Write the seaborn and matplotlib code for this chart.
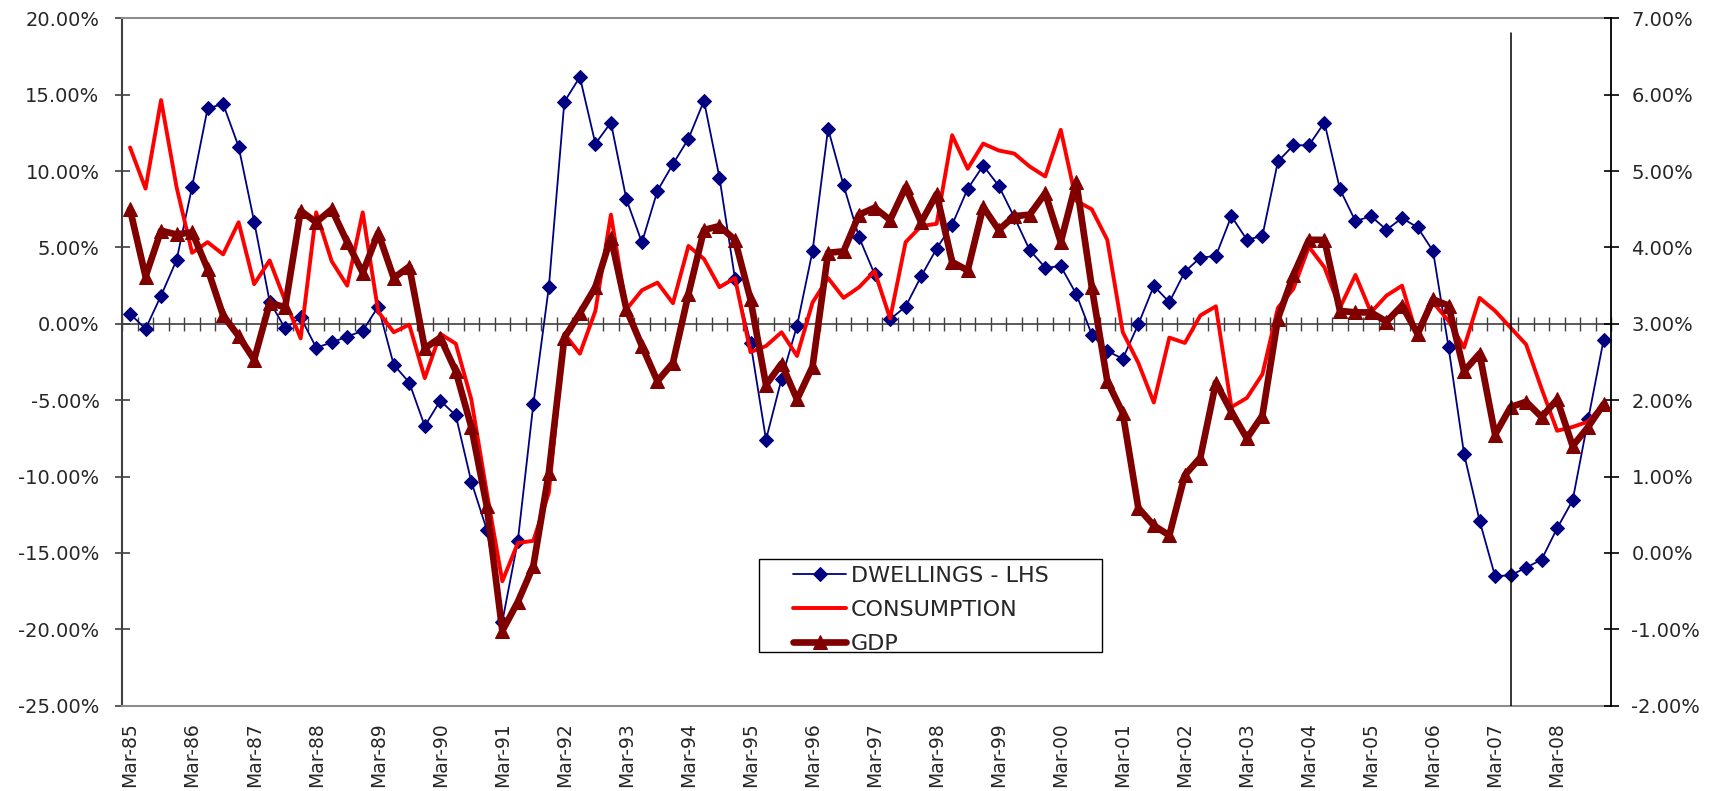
import numpy as np
import pandas as pd
import matplotlib
matplotlib.use("Agg")
import matplotlib.pyplot as plt
import seaborn as sns
from matplotlib.ticker import FuncFormatter
from matplotlib.patches import Rectangle
from matplotlib import font_manager

# quarterly categories Mar-85 .. Dec-08
quarters = [f"{m}-{y % 100:02d}" for y in range(1985, 2009) for m in ["Mar", "Jun", "Sep", "Dec"]]
tick_labels = ["Mar-85", "Mar-86", "Mar-87", "Mar-88", "Mar-89", "Mar-90", "Mar-91", "Mar-92",
               "Mar-93", "Mar-94", "Mar-95", "Mar-96", "Mar-97", "Mar-98", "Mar-99", "Mar-00",
               "Mar-01", "Mar-02", "Mar-03", "Mar-04", "Mar-05", "Mar-06", "Mar-07", "Mar-08"]

# dwellings, % (left axis)
dwellings = [0.66, -0.33, 1.85, 4.17, 8.97, 14.1, 14.4, 11.6, 6.7, 1.46, -0.3, 0.43, -1.56, -1.22, -0.83, -0.46,
             1.13, -2.68, -3.84, -6.69, -5.03, -5.99, -10.33, -13.48, -19.5, -14.2, -5.26, 2.42, 14.54, 16.16, 11.79, 13.18,
             8.15, 5.33, 8.71, 10.46, 12.12, 14.6, 9.57, 2.95, -1.23, -7.58, -3.61, -0.13, 4.77, 12.78, 9.07, 5.66,
             3.25, 0.30, 1.13, 3.11, 4.93, 6.49, 8.84, 10.36, 9.04, 6.99, 4.83, 3.68, 3.77, 1.95, -0.70, -1.79,
             -2.28, -0.03, 2.48, 1.42, 3.41, 4.34, 4.44, 7.05, 5.5, 5.76, 10.63, 11.69, 11.69, 13.18, 8.81, 6.72,
             7.05, 6.16, 6.92, 6.32, 4.77, -1.52, -8.51, -12.88, -16.52, -16.46, -15.96, -15.43, -13.38, -11.56, -6.26, -1.03]

# consumption, % (right axis)
consumption = [5.31, 4.77, 5.93, 4.79, 3.93, 4.07, 3.91, 4.33, 3.52, 3.83, 3.30, 2.81, 4.46, 3.82, 3.50, 4.46,
               3.16, 2.89, 2.99, 2.29, 2.87, 2.74, 2.01, 0.79, -0.37, 0.13, 0.16, 0.79, 2.87, 2.61, 3.17, 4.43,
               3.19, 3.44, 3.54, 3.27, 4.02, 3.85, 3.48, 3.60, 2.63, 2.71, 2.89, 2.58, 3.28, 3.60, 3.34, 3.48,
               3.69, 3.07, 4.07, 4.28, 4.31, 5.47, 5.03, 5.36, 5.27, 5.23, 5.06, 4.93, 5.54, 4.61, 4.50, 4.10,
               2.89, 2.49, 1.97, 2.82, 2.75, 3.11, 3.23, 1.91, 2.03, 2.34, 3.21, 3.46, 4.01, 3.74, 3.21, 3.64,
               3.15, 3.37, 3.50, 2.82, 3.28, 3.04, 2.69, 3.34, 3.17, 2.95, 2.73, 2.15, 1.60, 1.65, 1.72, 1.95]

# GDP, % (right axis)
gdp = [4.50, 3.62, 4.22, 4.17, 4.20, 3.72, 3.11, 2.84, 2.53, 3.27, 3.22, 4.48, 4.33, 4.50, 4.07, 3.67,
       4.19, 3.60, 3.75, 2.68, 2.82, 2.38, 1.65, 0.61, -1.02, -0.64, -0.17, 1.05, 2.82, 3.14, 3.48, 4.13,
       3.19, 2.71, 2.25, 2.49, 3.39, 4.23, 4.28, 4.10, 3.32, 2.20, 2.48, 2.01, 2.44, 3.93, 3.95, 4.43,
       4.52, 4.36, 4.79, 4.33, 4.70, 3.81, 3.70, 4.53, 4.23, 4.41, 4.43, 4.71, 4.07, 4.86, 3.48, 2.25,
       1.83, 0.59, 0.36, 0.23, 1.02, 1.25, 2.23, 1.85, 1.50, 1.80, 3.07, 3.64, 4.10, 4.10, 3.17, 3.15,
       3.15, 3.03, 3.24, 2.87, 3.32, 3.24, 2.38, 2.61, 1.55, 1.91, 1.98, 1.78, 2.01, 1.40, 1.65, 1.95]

left_ticks = [-25, -20, -15, -10, -5, 0, 5, 10, 15, 20]
right_ticks = [-2, -1, 0, 1, 2, 3, 4, 5, 6, 7]
legend_labels = ["DWELLINGS - LHS", "CONSUMPTION", "GDP"]
marker_quarter = "Jun-07"

sns.set_style("white")
plt.rcParams["font.family"] = ["DejaVu Sans"]

names = {f.name for f in font_manager.fontManager.ttflist}
xfont = "Liberation Sans Narrow" if "Liberation Sans Narrow" in names else "DejaVu Sans"
xsize = 17 if xfont == "Liberation Sans Narrow" else 13.5

df = pd.DataFrame({"q": np.arange(len(quarters)), "dwellings": dwellings,
                   "consumption": consumption, "gdp": gdp})

fig = plt.figure(figsize=(17.15, 7.91), dpi=100)
ax = fig.add_axes([0.0713, 0.1078, 0.8683, 0.8690])
ax2 = ax.twinx()

sns.lineplot(data=df, x="q", y="dwellings", ax=ax, color="#000080", lw=1.3,
             marker="D", ms=7, mec="#000080", mfc="#000080", zorder=3)
sns.lineplot(data=df, x="q", y="consumption", ax=ax2, color="#ff0000", lw=2.8, zorder=3)
sns.lineplot(data=df, x="q", y="gdp", ax=ax2, color="#800000", lw=4.8,
             marker="^", ms=10, mec="#800000", mfc="#800000", zorder=4)

ax.set_xlim(-0.5, len(quarters) - 0.5)
ax.set_ylim(-25, 20)
ax2.set_ylim(-2, 7)
ax.set_xlabel("")
ax.set_ylabel("")
ax2.set_ylabel("")

pct = FuncFormatter(lambda v, p: f"{v:.2f}%")
ax.set_yticks(left_ticks)
ax.yaxis.set_major_formatter(pct)
ax2.set_yticks(right_ticks)
ax2.yaxis.set_major_formatter(pct)

ax.set_xticks([quarters.index(t) for t in tick_labels])
ax.set_xticklabels(tick_labels, rotation=90, fontfamily=xfont, fontsize=xsize)
ax.tick_params(axis="x", length=0, pad=12)
ax.tick_params(axis="y", direction="inout", length=10.8, width=1.2, color="#404040",
               pad=11, labelsize=14)
ax2.tick_params(axis="y", direction="inout", length=10.8, width=1.2, color="black",
                pad=9, labelsize=14)

# zero line with quarter tick marks
sec = ax.secondary_xaxis(25 / 45)
sec.set_xticks(np.arange(-0.5, len(quarters), 1))
sec.tick_params(direction="inout", length=10.5, width=1.0, color="#404040",
                labelbottom=False, labeltop=False)
for s in sec.spines.values():
    s.set_color("#404040")
    s.set_linewidth(1.2)

for side in ["top", "bottom"]:
    ax.spines[side].set_color("#8c8c8c")
    ax.spines[side].set_linewidth(1.5)
ax.spines["left"].set_color("#404040")
ax.spines["left"].set_linewidth(1.5)
ax.spines["right"].set_visible(False)
for side in ["top", "bottom", "left"]:
    ax2.spines[side].set_visible(False)
ax2.spines["right"].set_color("black")
ax2.spines["right"].set_linewidth(1.3)

ax2.axvline(quarters.index(marker_quarter), ymin=0, ymax=0.9786, color="black", lw=1.1, zorder=5)

# legend box
fig.add_artist(Rectangle((759 / 1715, 1 - 652 / 791), 343 / 1715, 93 / 791,
                         transform=fig.transFigure, facecolor="white", edgecolor="black", lw=1.0))
handles = [ax.lines[0], ax2.lines[0], ax2.lines[1]]
fig.legend(handles, legend_labels, loc="upper left", bbox_to_anchor=(793 / 1715, 1 - 566 / 791),
           frameon=False, fontsize=16, handlelength=2.4, handletextpad=0.22,
           labelspacing=0.63, borderpad=0, borderaxespad=0)

fig.savefig("out.png", dpi=100, facecolor="white")
